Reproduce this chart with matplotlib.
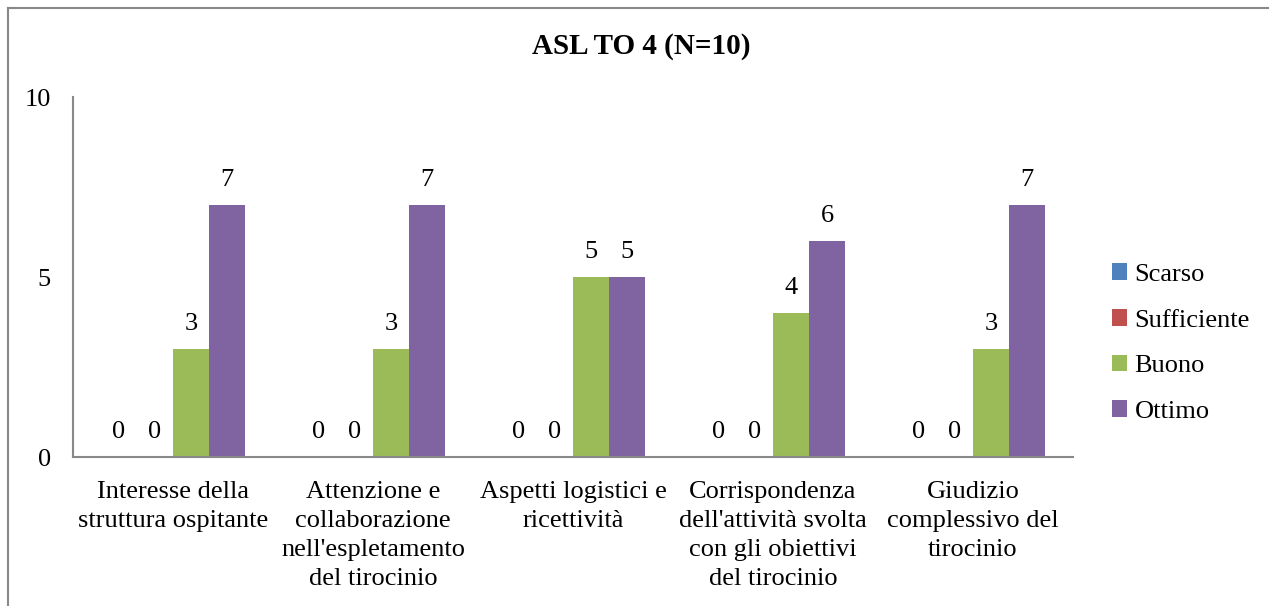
import matplotlib.pyplot as plt
import numpy as np

plt.rcParams['font.family'] = ['Liberation Serif', 'DejaVu Serif']

categorie = ["Interesse della\nstruttura ospitante",
             "Attenzione e\ncollaborazione\nnell'espletamento\ndel tirocinio",
             "Aspetti logistici e\nricettività",
             "Corrispondenza\ndell'attività svolta\ncon gli obiettivi\ndel tirocinio",
             "Giudizio\ncomplessivo del\ntirocinio"]
serie = ["Scarso", "Sufficiente", "Buono", "Ottimo"]
scarso = [0, 0, 0, 0, 0]
sufficiente = [0, 0, 0, 0, 0]
buono = [3, 3, 5, 4, 3]
ottimo = [7, 7, 5, 6, 7]
colori = ['#4F81BD', '#C0504D', '#9BBB59', '#8064A2']

valori = [scarso, sufficiente, buono, ottimo]
fs = 19

fig = plt.figure(figsize=(12.69, 6.06), dpi=100)
ax = fig.add_axes([73/1269, 1 - 457/606, 1000/1269, 360/606])

x = np.arange(len(categorie))
w = 0.18
for i, (nome, v, c) in enumerate(zip(serie, valori, colori)):
    pos = x + (i - 1.5) * w
    ax.bar(pos, v, w, color=c, label=nome)
    for xb, yb in zip(pos, v):
        ax.text(xb, yb + 0.38, str(yb), ha='center', va='bottom', fontsize=fs)

ax.set_xlim(-0.5, len(categorie) - 0.5)
ax.set_ylim(0, 10)
ax.set_yticks([0, 5, 10])
ax.set_xticks(x)
ax.set_xticklabels(categorie, fontsize=fs, linespacing=1.42)
ax.tick_params(axis='both', length=0, labelsize=fs)
ax.tick_params(axis='y', pad=16)
ax.tick_params(axis='x', pad=17)
for s in ['top', 'right']:
    ax.spines[s].set_visible(False)
for s in ['left', 'bottom']:
    ax.spines[s].set_color('#888888')
    ax.spines[s].set_linewidth(1.5)

fig.text(641/1269, 1 - 47/606, 'ASL TO 4 (N=10)', ha='center', va='center',
         fontsize=21, fontweight='bold')

ax.legend(loc='center left', bbox_to_anchor=(1.039, 0.316), frameon=False,
          fontsize=fs, handlelength=0.55, handleheight=0.6, handletextpad=0.3,
          labelspacing=0.87, borderpad=0, borderaxespad=0)

# bordo del grafico (tagliato a destra e in basso)
fig.add_artist(plt.Line2D([8/1269, 8/1269], [0, 1 - 8/606], color='#888888', lw=1.5,
                          transform=fig.transFigure))
fig.add_artist(plt.Line2D([8/1269, 1], [1 - 8/606, 1 - 8/606], color='#888888', lw=1.5,
                          transform=fig.transFigure))

plt.savefig('out.png', dpi=100)
